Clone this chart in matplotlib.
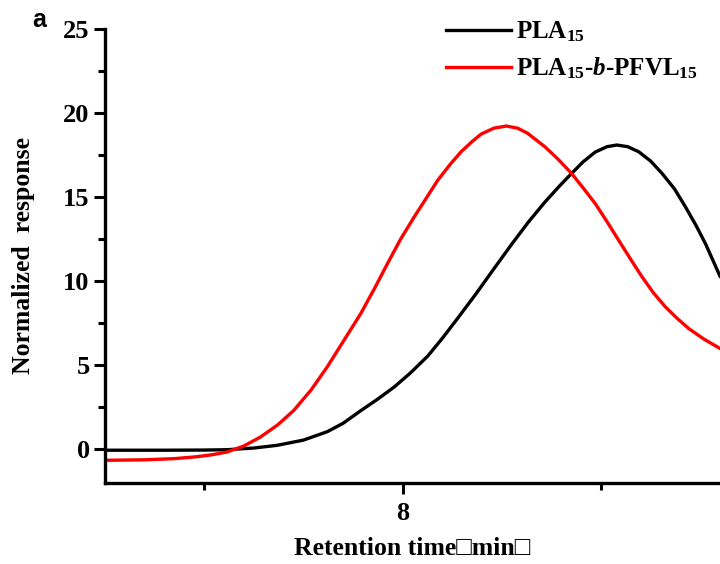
import matplotlib
matplotlib.use('Agg')
import matplotlib.pyplot as plt
from matplotlib.ticker import MultipleLocator

# GPC traces (retention time in min, normalized response)
t_pla = [6.5, 6.8, 7.0, 7.114, 7.25, 7.367, 7.5, 7.62, 7.7, 7.789, 7.87, 7.958,
         8.04, 8.127, 8.2, 8.278, 8.37, 8.464, 8.55, 8.633, 8.717, 8.79, 8.852,
         8.91, 8.971, 9.03, 9.08, 9.135, 9.19, 9.25, 9.308, 9.37, 9.426, 9.48,
         9.528, 9.6]
r_pla = [-0.05, -0.05, -0.04, -0.02, 0.08, 0.24, 0.55, 1.05, 1.55, 2.3, 2.95, 3.71,
         4.55, 5.55, 6.6, 7.8, 9.25, 10.8, 12.2, 13.5, 14.7, 15.65, 16.41,
         17.1, 17.68, 18.0, 18.1, 18.0, 17.7, 17.15, 16.41, 15.5, 14.42, 13.3,
         12.2, 10.3]

t_copo = [6.5, 6.7, 6.85, 6.96, 7.04, 7.114, 7.2, 7.283, 7.37, 7.452, 7.54, 7.62,
          7.70, 7.789, 7.86, 7.924, 7.99, 8.059, 8.12, 8.177, 8.24, 8.295, 8.35,
          8.396, 8.46, 8.523, 8.58, 8.63, 8.717, 8.78, 8.852, 8.91, 8.971, 9.03,
          9.089, 9.15, 9.207, 9.265, 9.325, 9.385, 9.443, 9.52, 9.6]
r_copo = [-0.65, -0.62, -0.55, -0.44, -0.32, -0.16, 0.2, 0.73, 1.45, 2.32, 3.55, 4.9,
          6.4, 8.07, 9.6, 11.05, 12.5, 13.83, 14.95, 16.0, 16.95, 17.7, 18.3,
          18.75, 19.1, 19.23, 19.1, 18.8, 18.0, 17.3, 16.41, 15.55, 14.62, 13.55,
          12.44, 11.3, 10.26, 9.3, 8.47, 7.78, 7.18, 6.55, 6.0]

lbl_pla = r'PLA$_{\mathbf{15}}$'
lbl_copo = r'PLA$_{\mathbf{15}}$-$\mathbfit{b}$-PFVL$_{\mathbf{15}}$'

plt.rcParams['font.family'] = ['Liberation Serif', 'DejaVu Serif']
plt.rcParams['font.weight'] = 'bold'
plt.rcParams['mathtext.fontset'] = 'custom'
plt.rcParams['mathtext.rm'] = 'Liberation Serif:bold'
plt.rcParams['mathtext.bf'] = 'Liberation Serif:bold'
plt.rcParams['mathtext.it'] = 'Liberation Serif:italic:bold'
plt.rcParams['mathtext.bfit'] = 'Liberation Serif:italic:bold'

fig = plt.figure(figsize=(7.2, 5.64), dpi=100)
ax = fig.add_axes([0.1458, 0.1436, 0.8542, 0.805])

ax.plot(t_pla, r_pla, color='black', lw=2.4, label=lbl_pla)
ax.plot(t_copo, r_copo, color='#ff0000', lw=2.4, label=lbl_copo)

ax.set_xlim(6.5, 9.6)
ax.set_ylim(-2, 25)
ax.spines['top'].set_visible(False)
ax.spines['right'].set_visible(False)
for s in ('left', 'bottom'):
    ax.spines[s].set_linewidth(2.4)

ax.xaxis.set_major_locator(MultipleLocator(2))
ax.xaxis.set_minor_locator(MultipleLocator(1))
ax.yaxis.set_major_locator(MultipleLocator(5))
ax.yaxis.set_minor_locator(MultipleLocator(2.5))
ax.tick_params(which='major', length=8, width=2.2, labelsize=19, direction='out')
ax.tick_params(which='minor', length=5, width=2.2, direction='out')
ax.tick_params(axis='x', pad=6)
ax.tick_params(axis='y', pad=3)
for lab in ax.get_xticklabels() + ax.get_yticklabels():
    lab.set_fontweight('bold')

ax.set_xlabel('Retention time\u25a1min\u25a1', fontsize=18.5, fontweight='bold', labelpad=8)
ax.set_ylabel('Normalized  response', fontsize=18.5, fontweight='bold', labelpad=20)

leg = ax.legend(loc='upper right', bbox_to_anchor=(1.0, 1.07), frameon=False,
                fontsize=18, handlelength=2.6, handletextpad=0.2, labelspacing=0.45)
for line in leg.get_lines():
    line.set_linewidth(2.4)

fig.text(0.055, 0.965, 'a', fontsize=18, fontweight='bold', family='Liberation Sans',
         ha='center', va='center')

fig.savefig('out.png', dpi=100)
